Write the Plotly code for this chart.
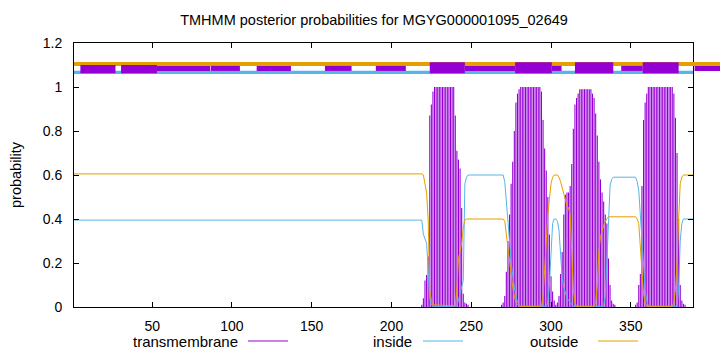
import plotly.graph_objects as go

# ---------------- data ----------------
title_text = "TMHMM posterior probabilities for MGYG000001095_02649"
series_names = ["transmembrane", "inside", "outside"]
x_ticks = [50, 100, 150, 200, 250, 300, 350]
y_ticks = [0, 0.2, 0.4, 0.6, 0.8, 1.0, 1.2]
y_tick_labels = ["0", "0.2", "0.4", "0.6", "0.8", "1", "1.2"]
seq_start, seq_end = 1, 389

# transmembrane posterior (impulses), residues with non-zero values
tm_pos = (list(range(219, 249)) + list(range(269, 304)) +
          list(range(304, 341)) + list(range(353, 385)))
tm_val = [
    # 219-248
    0.01, 0.04, 0.12, 0.145, 0.23, 0.87, 0.92, 0.98,
    1.0, 1.0, 1.0, 1.0, 1.0, 1.0, 1.0, 1.0, 1.0, 1.0, 1.0, 1.0, 1.0,
    0.87, 0.71, 0.67, 0.63, 0.45, 0.06, 0.02, 0.015, 0.01,
    # 269-303
    0.01, 0.02, 0.05, 0.16, 0.30, 0.42, 0.56, 0.66, 0.80, 0.93, 0.97, 0.99,
    1.0, 1.0, 1.0, 1.0, 1.0, 1.0, 1.0, 1.0, 1.0, 1.0, 1.0, 1.0, 1.0,
    0.98, 0.85, 0.72, 0.62, 0.50, 0.33, 0.14, 0.07, 0.03, 0.01,
    # 304-340
    0.02, 0.05, 0.15, 0.25, 0.42, 0.51, 0.52, 0.52, 0.55, 0.65, 0.81, 0.92, 0.95, 0.97,
    0.99, 0.99, 0.99, 0.99, 0.99, 0.99, 0.99, 0.99,
    0.97, 0.95, 0.88, 0.78, 0.66, 0.58, 0.52, 0.48, 0.42, 0.38, 0.22, 0.10, 0.03, 0.015, 0.01,
    # 353-384
    0.01, 0.02, 0.10, 0.15, 0.55, 0.85, 0.93, 0.97,
    1.0, 1.0, 1.0, 1.0, 1.0, 1.0, 1.0, 1.0, 1.0, 1.0, 1.0, 1.0, 1.0, 1.0, 1.0, 1.0,
    0.97, 0.86, 0.70, 0.40, 0.10, 0.03, 0.015, 0.01,
]

# inside posterior (line), breakpoints
inside_pos = [1, 219, 220, 221, 222, 223, 224, 225, 226, 241, 242, 243, 244, 245, 246, 247, 248,
              270, 271, 272, 273, 274, 275, 276, 277, 278, 279, 280, 281,
              297, 298, 299, 300, 301, 302, 303, 304, 305, 306, 307, 308, 309, 310, 311, 312, 313, 314,
              333, 334, 335, 336, 337, 338, 339,
              353, 354, 355, 356, 357, 358, 359, 360, 361,
              379, 380, 381, 382, 383, 389]
inside_val = [0.395, 0.395, 0.33, 0.31, 0.29, 0.18, 0.04, 0.01, 0.003, 0.003, 0.03, 0.06, 0.08, 0.12, 0.56, 0.59, 0.60,
              0.60, 0.57, 0.49, 0.40, 0.30, 0.20, 0.14, 0.09, 0.05, 0.02, 0.01, 0.003,
              0.003, 0.02, 0.10, 0.25, 0.38, 0.40, 0.40, 0.39, 0.35, 0.24, 0.13, 0.09, 0.06, 0.04, 0.03, 0.02, 0.01, 0.003,
              0.003, 0.05, 0.20, 0.40, 0.55, 0.58, 0.59,
              0.59, 0.57, 0.53, 0.42, 0.28, 0.15, 0.08, 0.03, 0.003,
              0.003, 0.08, 0.30, 0.38, 0.40, 0.40]

# outside posterior (line), breakpoints
outside_pos = [1, 219, 220, 221, 222, 223, 224, 225, 226, 240, 241, 242, 243, 244, 245, 246, 247,
               270, 271, 272, 273, 274, 275, 276, 277, 278, 279, 280,
               294, 295, 296, 297, 298, 299, 300, 301, 302, 304, 305, 306, 307, 308, 309, 310, 311, 312,
               313, 314, 315, 316,
               327, 328, 329, 330, 331, 332, 333, 334, 335, 336,
               353, 354, 355, 356, 357, 358, 359, 360,
               376, 377, 378, 379, 380, 381, 382, 383, 389]
outside_val = [0.605, 0.605, 0.60, 0.56, 0.52, 0.40, 0.07, 0.03, 0.01, 0.005, 0.08, 0.22, 0.25, 0.29, 0.36, 0.395, 0.40,
               0.40, 0.39, 0.33, 0.27, 0.20, 0.15, 0.09, 0.05, 0.02, 0.01, 0.003,
               0.003, 0.05, 0.17, 0.31, 0.42, 0.49, 0.56, 0.59, 0.60, 0.60, 0.59, 0.57, 0.54, 0.51, 0.48, 0.46, 0.45, 0.42,
               0.25, 0.08, 0.02, 0.003,
               0.003, 0.02, 0.10, 0.25, 0.32, 0.35, 0.37, 0.39, 0.40, 0.41,
               0.41, 0.40, 0.38, 0.27, 0.15, 0.06, 0.02, 0.003,
               0.003, 0.02, 0.08, 0.20, 0.40, 0.56, 0.59, 0.60, 0.60]

# top summary bar (residue ranges)
bar_outside = [(1, 420)]
bar_inside = [(1, 389)]
bar_tm_tall_a = [(5, 27), (30.5, 53)]
bar_tm_tall_b = [(224, 246), (277.5, 300.5), (315, 339), (357.5, 380)]
bar_tm_thin = [(53, 86.3), (86.7, 105), (115.5, 137), (158.3, 175), (190.2, 209),
               (246, 277.5), (300.5, 306.6), (344, 357.5), (390, 420)]

# ---------------- styling ----------------
PURPLE = "#9400D3"
BLUE = "#56B4E9"
ORANGE = "#E69F00"
FONT = "Liberation Sans, Arial, sans-serif"
YMAX = 1.2

W, H = 720, 352
L, R, T, B = 74, 27, 43, 45
PW, PH = W - L - R, H - T - B


def xp(r):
    return (r - seq_start) / (seq_end - seq_start)


def yp(v):
    return v / YMAX


fig = go.Figure()

ix, iy = [], []
for r, v in zip(tm_pos, tm_val):
    ix += [r, r, None]
    iy += [0, v, None]
fig.add_trace(go.Scatter(x=ix, y=iy, mode="lines", name=series_names[0],
                         line=dict(color=PURPLE, width=1.1), hoverinfo="skip"))
fig.add_trace(go.Scatter(x=inside_pos, y=inside_val, mode="lines", name=series_names[1],
                         line=dict(color=BLUE, width=1)))
fig.add_trace(go.Scatter(x=outside_pos, y=outside_val, mode="lines", name=series_names[2],
                         line=dict(color=ORANGE, width=1)))

shapes = []
for a, b in bar_outside:
    shapes.append(dict(type="rect", xref="paper", yref="paper", x0=xp(a), x1=xp(b),
                       y0=yp(1.095), y1=yp(1.114), fillcolor=ORANGE, line_width=0, layer="above"))
for a, b in bar_inside:
    shapes.append(dict(type="rect", xref="paper", yref="paper", x0=xp(a), x1=xp(b),
                       y0=yp(1.059), y1=yp(1.074), fillcolor=BLUE, line_width=0, layer="above"))
for a, b in bar_tm_thin:
    shapes.append(dict(type="rect", xref="paper", yref="paper", x0=xp(a), x1=xp(b),
                       y0=yp(1.073), y1=yp(1.096), fillcolor=PURPLE, line_width=0, layer="above"))
for a, b in bar_tm_tall_a:
    shapes.append(dict(type="rect", xref="paper", yref="paper", x0=xp(a), x1=xp(b),
                       y0=yp(1.062), y1=yp(1.100), fillcolor=PURPLE, line_width=0, layer="above"))
for a, b in bar_tm_tall_b:
    shapes.append(dict(type="rect", xref="paper", yref="paper", x0=xp(a), x1=xp(b),
                       y0=yp(1.062), y1=yp(1.112), fillcolor=PURPLE, line_width=0, layer="above"))

# legend (text then line sample, gnuplot style)
legend_text_right = [240, 414, 580]
legend_line = [(248, 288), (423, 463), (598, 638)]
legend_y = 341
colors = [PURPLE, BLUE, ORANGE]
annotations = []
for name, xr, (l0, l1), c in zip(series_names, legend_text_right, legend_line, colors):
    ypx = (H - B - legend_y) / PH
    annotations.append(dict(text=name, xref="paper", yref="paper", x=(xr - L) / PW, y=ypx,
                            xanchor="right", yanchor="middle", showarrow=False,
                            font=dict(family=FONT, size=15, color="#000")))
    shapes.append(dict(type="line", xref="paper", yref="paper", x0=(l0 - L) / PW, x1=(l1 - L) / PW,
                       y0=ypx, y1=ypx, line=dict(color=c, width=1)))

# y axis title
annotations.append(dict(text="probability", xref="paper", yref="paper", x=(16 - L) / PW, y=0.5,
                        xanchor="center", yanchor="middle", textangle=-90, showarrow=False,
                        font=dict(family=FONT, size=14.5, color="#000")))

fig.update_layout(
    width=W, height=H,
    margin=dict(l=L, r=R, t=T, b=B),
    paper_bgcolor="white", plot_bgcolor="white",
    showlegend=False,
    title=dict(text=title_text, x=(374 - L) / PW, xref="paper", xanchor="center",
               y=1 - 20 / H, yref="container", yanchor="middle",
               font=dict(family=FONT, size=14.5, color="#000")),
    shapes=shapes, annotations=annotations,
    font=dict(family=FONT, size=14, color="#000"),
)
fig.update_xaxes(range=[seq_start, seq_end], tickvals=x_ticks, ticks="inside", ticklen=5,
                 tickcolor="#000", showline=True, linecolor="#000", linewidth=1, mirror="ticks",
                 showgrid=False, zeroline=False, ticklabelstandoff=6,
                 tickfont=dict(family=FONT, size=14, color="#000"))
fig.update_yaxes(range=[0, YMAX], tickvals=y_ticks, ticktext=y_tick_labels, ticks="inside", ticklen=5,
                 tickcolor="#000", showline=True, linecolor="#000", linewidth=1, mirror="ticks",
                 showgrid=False, zeroline=False, ticklabelstandoff=8,
                 tickfont=dict(family=FONT, size=14, color="#000"))

fig.write_html("out.html")
